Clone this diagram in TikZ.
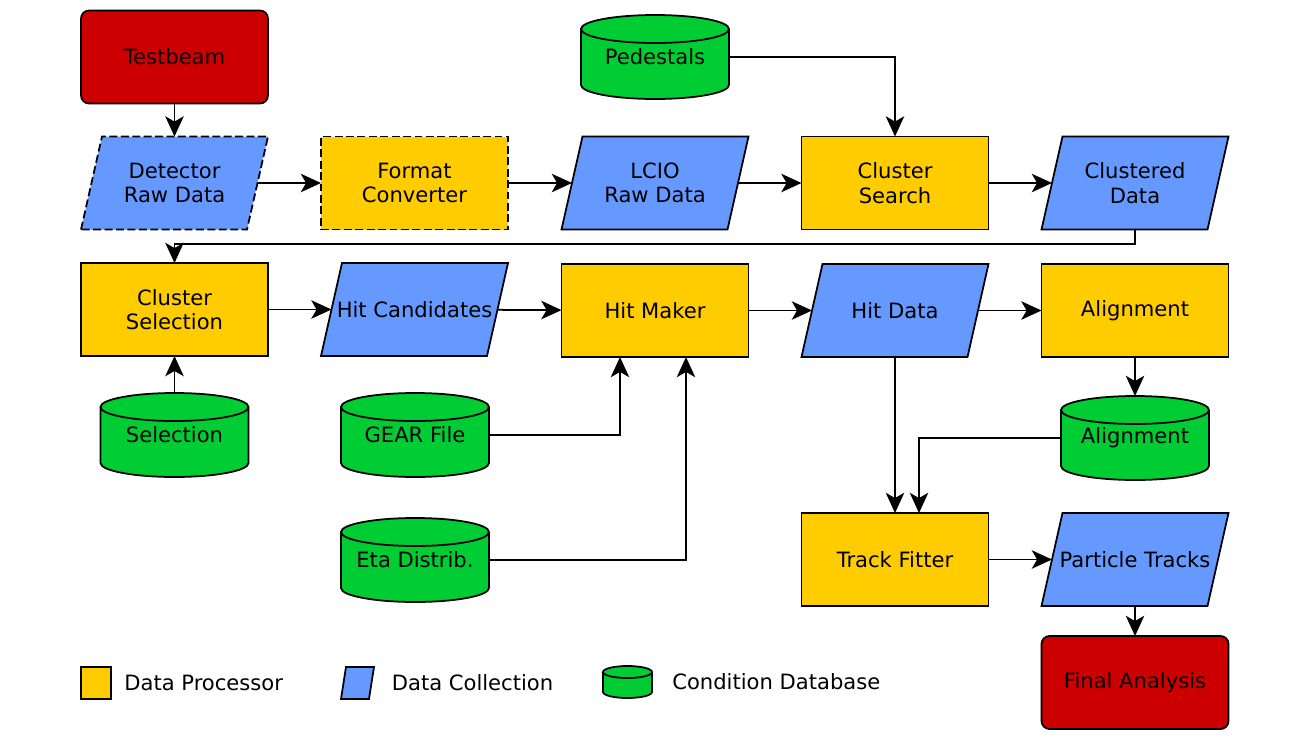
\documentclass[tikz,border=0pt]{standalone}
\usepackage{fontspec}
\setmainfont{DejaVu Sans}
\usepackage{tikz}
\usetikzlibrary{arrows.meta,positioning}
\pgfdeclarelayer{bg}
\pgfsetlayers{bg,main}
\definecolor{procyellow}{RGB}{255,204,0}
\definecolor{collblue}{RGB}{102,153,255}
\definecolor{dbgreen}{RGB}{0,204,51}
\definecolor{endred}{RGB}{204,0,0}
\tikzset{
	base/.style={draw=black, line width=1pt, outer sep=0pt, align=center, inner sep=1pt, font=\fontsize{12}{14}\selectfont},
	procbox/.style={base, rectangle, fill=procyellow, minimum width=3.74cm, minimum height=1.86cm},
	endbox/.style={base, rectangle, rounded corners=0.16cm, fill=endred, minimum width=3.74cm, minimum height=1.86cm},
	dashbox/.style={dash pattern=on 4.5pt off 2pt},
	% parallelogram drawn behind a plain box: #1 = skew, #2 = border options
	collshape/.style 2 args={base, draw=none, append after command={\pgfextra{
		\begin{pgfonlayer}{bg}
			\draw[line width=1pt, fill=collblue, #2] ([xshift=-#1]\tikzlastnode.south west) -- ([xshift=#1]\tikzlastnode.north west)
				-- ([xshift=#1]\tikzlastnode.north east) -- ([xshift=-#1]\tikzlastnode.south east) -- cycle;
		\end{pgfonlayer}}}},
	collbox/.style={collshape={0.21cm}{#1}, minimum width=3.32cm, minimum height=1.86cm},
	collbox/.default={},
	% cylinder drawn behind a plain box: #1 = x radius, #2 = y radius
	dbshape/.style 2 args={base, draw=none, append after command={\pgfextra{
		\begin{pgfonlayer}{bg}
			\draw[line width=1pt, fill=dbgreen] ([yshift=-#2]\tikzlastnode.north west) -- ([yshift=#2]\tikzlastnode.south west)
				arc[start angle=180, end angle=360, x radius=#1, y radius=#2] -- ([yshift=-#2]\tikzlastnode.north east)
				arc[start angle=0, end angle=180, x radius=#1, y radius=#2] -- cycle;
			\draw[line width=1pt] ([yshift=-#2]\tikzlastnode.north west) arc[start angle=180, end angle=360, x radius=#1, y radius=#2];
		\end{pgfonlayer}}}},
	dbbox/.style={dbshape={1.48cm}{0.28cm}, minimum width=2.96cm, minimum height=1.68cm},
	flow/.style={line width=1pt, -{Stealth[length=11.5pt, width=10.5pt, inset=3pt]}},
	legtext/.style={font=\fontsize{12}{14}\selectfont, inner sep=0pt, anchor=west}
}
\begin{document}
\begin{tikzpicture}
	\useasboundingbox (0, 0) rectangle (26.32, -14.92);
	
	% top row
	\node[endbox] (beam) at (3.49, -1.14) {Testbeam};
	\node[dbbox] (peds) at (13.1, -1.14) {Pedestals};
	
	% raw data chain
	\node[collbox=dashbox] (rawdet) at (3.49, -3.66) {Detector\\Raw Data};
	\node[procbox, dashbox] (conv) at (8.29, -3.66) {Format\\Converter};
	\node[collbox] (rawlcio) at (13.1, -3.66) {LCIO\\Raw Data};
	\node[procbox] (clus) at (17.9, -3.66) {Cluster\\Search};
	\node[collbox] (clusdata) at (22.7, -3.66) {Clustered\\Data};
	
	% hit chain
	\node[procbox] (clsel) at (3.49, -6.19) {Cluster\\Selection};
	\node[collbox] (hitcand) at (8.29, -6.19) {Hit Candidates};
	\node[procbox] (hitmk) at (13.1, -6.21) {Hit Maker};
	\node[collbox] (hitdata) at (17.9, -6.21) {Hit Data};
	\node[procbox] (align) at (22.7, -6.21) {Alignment};
	
	% conditions
	\node[dbbox] (seldb) at (3.49, -8.7) {Selection};
	\node[dbbox] (gear) at (8.3, -8.7) {GEAR File};
	\node[dbbox] (aligndb) at (22.7, -8.76) {Alignment};
	\node[dbbox] (eta) at (8.3, -11.2) {Eta Distrib.};
	
	% tracking
	\node[procbox] (fitter) at (17.9, -11.19) {Track Fitter};
	\node[collbox] (tracks) at (22.7, -11.19) {Particle Tracks};
	\node[endbox] (final) at (22.7, -13.65) {Final Analysis};
	
	% legend
	\node[procbox, minimum width=0.6cm, minimum height=0.64cm] (legproc) at (1.92, -13.66) {};
	\node[legtext, right=0.26cm of legproc] (legproctxt) {Data Processor};
	\node[collshape={0.05cm}{}, minimum width=0.56cm, minimum height=0.64cm] (legcoll) at (7.15, -13.66) {};
	\node[legtext, right=0.4cm of legcoll] (legcolltxt) {Data Collection};
	\node[dbshape={0.49cm}{0.12cm}, minimum width=0.98cm, minimum height=0.64cm] (legdb) at (12.55, -13.64) {};
	\node[legtext, right=0.4cm of legdb] (legdbtxt) {Condition Database};
	
	% connectors
	\draw[flow] (beam) -- (rawdet);
	\draw[flow] (rawdet) -- (conv);
	\draw[flow] (conv) -- (rawlcio);
	\draw[flow] (rawlcio) -- (clus);
	\draw[flow] (peds.east) -| (clus.north);
	\draw[flow] (clus) -- (clusdata);
	\coordinate (wrap) at (22.7, -4.88);
	\draw[flow] (clusdata.south) -- (wrap) -| (clsel.north);
	\draw[flow] (seldb.north) -- (clsel.south);
	\draw[flow] (clsel) -- (hitcand);
	\draw[flow] (hitcand) -- (hitmk);
	\draw[flow] (gear.east) -| ([xshift=-0.7cm]hitmk.south);
	\draw[flow] (eta.east) -| ([xshift=0.62cm]hitmk.south);
	\draw[flow] (hitmk) -- (hitdata);
	\draw[flow] (hitdata) -- (align);
	\draw[flow] (align.south) -- (aligndb.north);
	\draw[flow] (hitdata.south) -- (fitter.north);
	\draw[flow] (aligndb.west) -| ([xshift=0.48cm]fitter.north);
	\draw[flow] (fitter) -- (tracks);
	\draw[flow] (tracks.south) -- (final.north);
	
\end{tikzpicture}
\end{document}
